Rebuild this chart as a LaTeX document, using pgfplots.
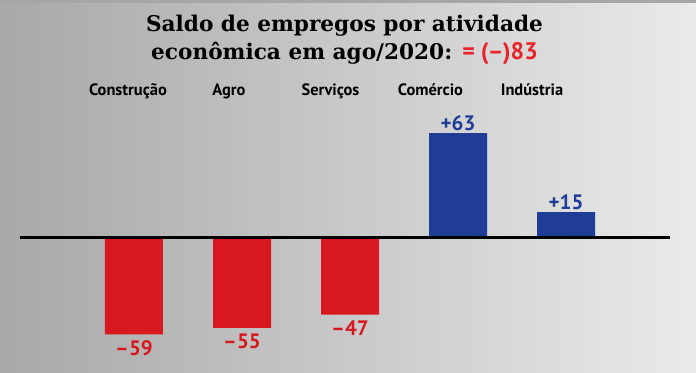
\documentclass[border=0pt]{standalone}
\usepackage{fontspec}
\setmainfont{PT Sans}
\newfontfamily\titlefont{DejaVu Serif}
\usepackage{pgfplots}
\pgfplotsset{compat=1.18}
\definecolor{bred}{HTML}{D7191F}
\definecolor{bblue}{HTML}{1F3D96}
\definecolor{tred}{HTML}{E8232A}
\definecolor{bgL}{HTML}{A8A8A8}
\definecolor{bgM}{HTML}{CDCECF}
\definecolor{bgR}{HTML}{EAEAEB}
\tikzset{catlab/.style={anchor=base, font=\bfseries\fontsize{16.5}{16.5}\selectfont}}
\begin{document}
\begin{tikzpicture}
\shade[left color=bgL, middle color=bgM, right color=bgR] (0,0) rectangle (696bp,373bp);
\fill[gray!70] (0,370bp) rectangle (696bp,373bp);
\begin{axis}[
  at={(0,0)}, anchor=south west,
  scale only axis, width=696bp, height=373bp,
  xmin=-1.2407, xmax=5.2037, ymin=-82.4, ymax=143.6,
  hide axis, clip=false,
  ybar, bar width=58bp, bar shift=0pt,
  point meta=explicit symbolic,
  nodes near coords,
  every node near coord/.append style={font=\bfseries\fontsize{21}{21}\selectfont, inner sep=1pt},
]
\addplot[fill=bred, draw=none, nodes near coords style={anchor=north, text=bred, yshift=-5bp}]
  coordinates {(0,-59) [–59] (1,-55) [–55] (2,-47) [–47]};
\addplot[fill=bblue, draw=none, nodes near coords style={anchor=south, text=bblue, yshift=1bp}]
  coordinates {(3,63) [+63] (4,15) [+15]};
\draw[line width=3bp] (axis cs:-1.0556,0) -- (axis cs:4.963,0);
\node[anchor=base, font=\titlefont\bfseries\fontsize{21.7}{21.7}\selectfont] at (rel axis cs:0.495,0.9142) {Saldo de empregos por atividade};
\node[anchor=base, font=\titlefont\bfseries\fontsize{21.7}{21.7}\selectfont] at (rel axis cs:0.495,0.8418) {econômica em ago/2020: {\color{tred}\normalfont\bfseries\fontsize{24}{24}\selectfont = (–)83}};
\node[catlab] at (rel axis cs:0.1839,0.745) {Construção};
\node[catlab] at (rel axis cs:0.3290,0.745) {Agro};
\node[catlab] at (rel axis cs:0.4749,0.745) {Serviços};
\node[catlab] at (rel axis cs:0.6185,0.745) {Comércio};
\node[catlab] at (rel axis cs:0.7644,0.745) {Indústria};
\end{axis}
\end{tikzpicture}
\end{document}
